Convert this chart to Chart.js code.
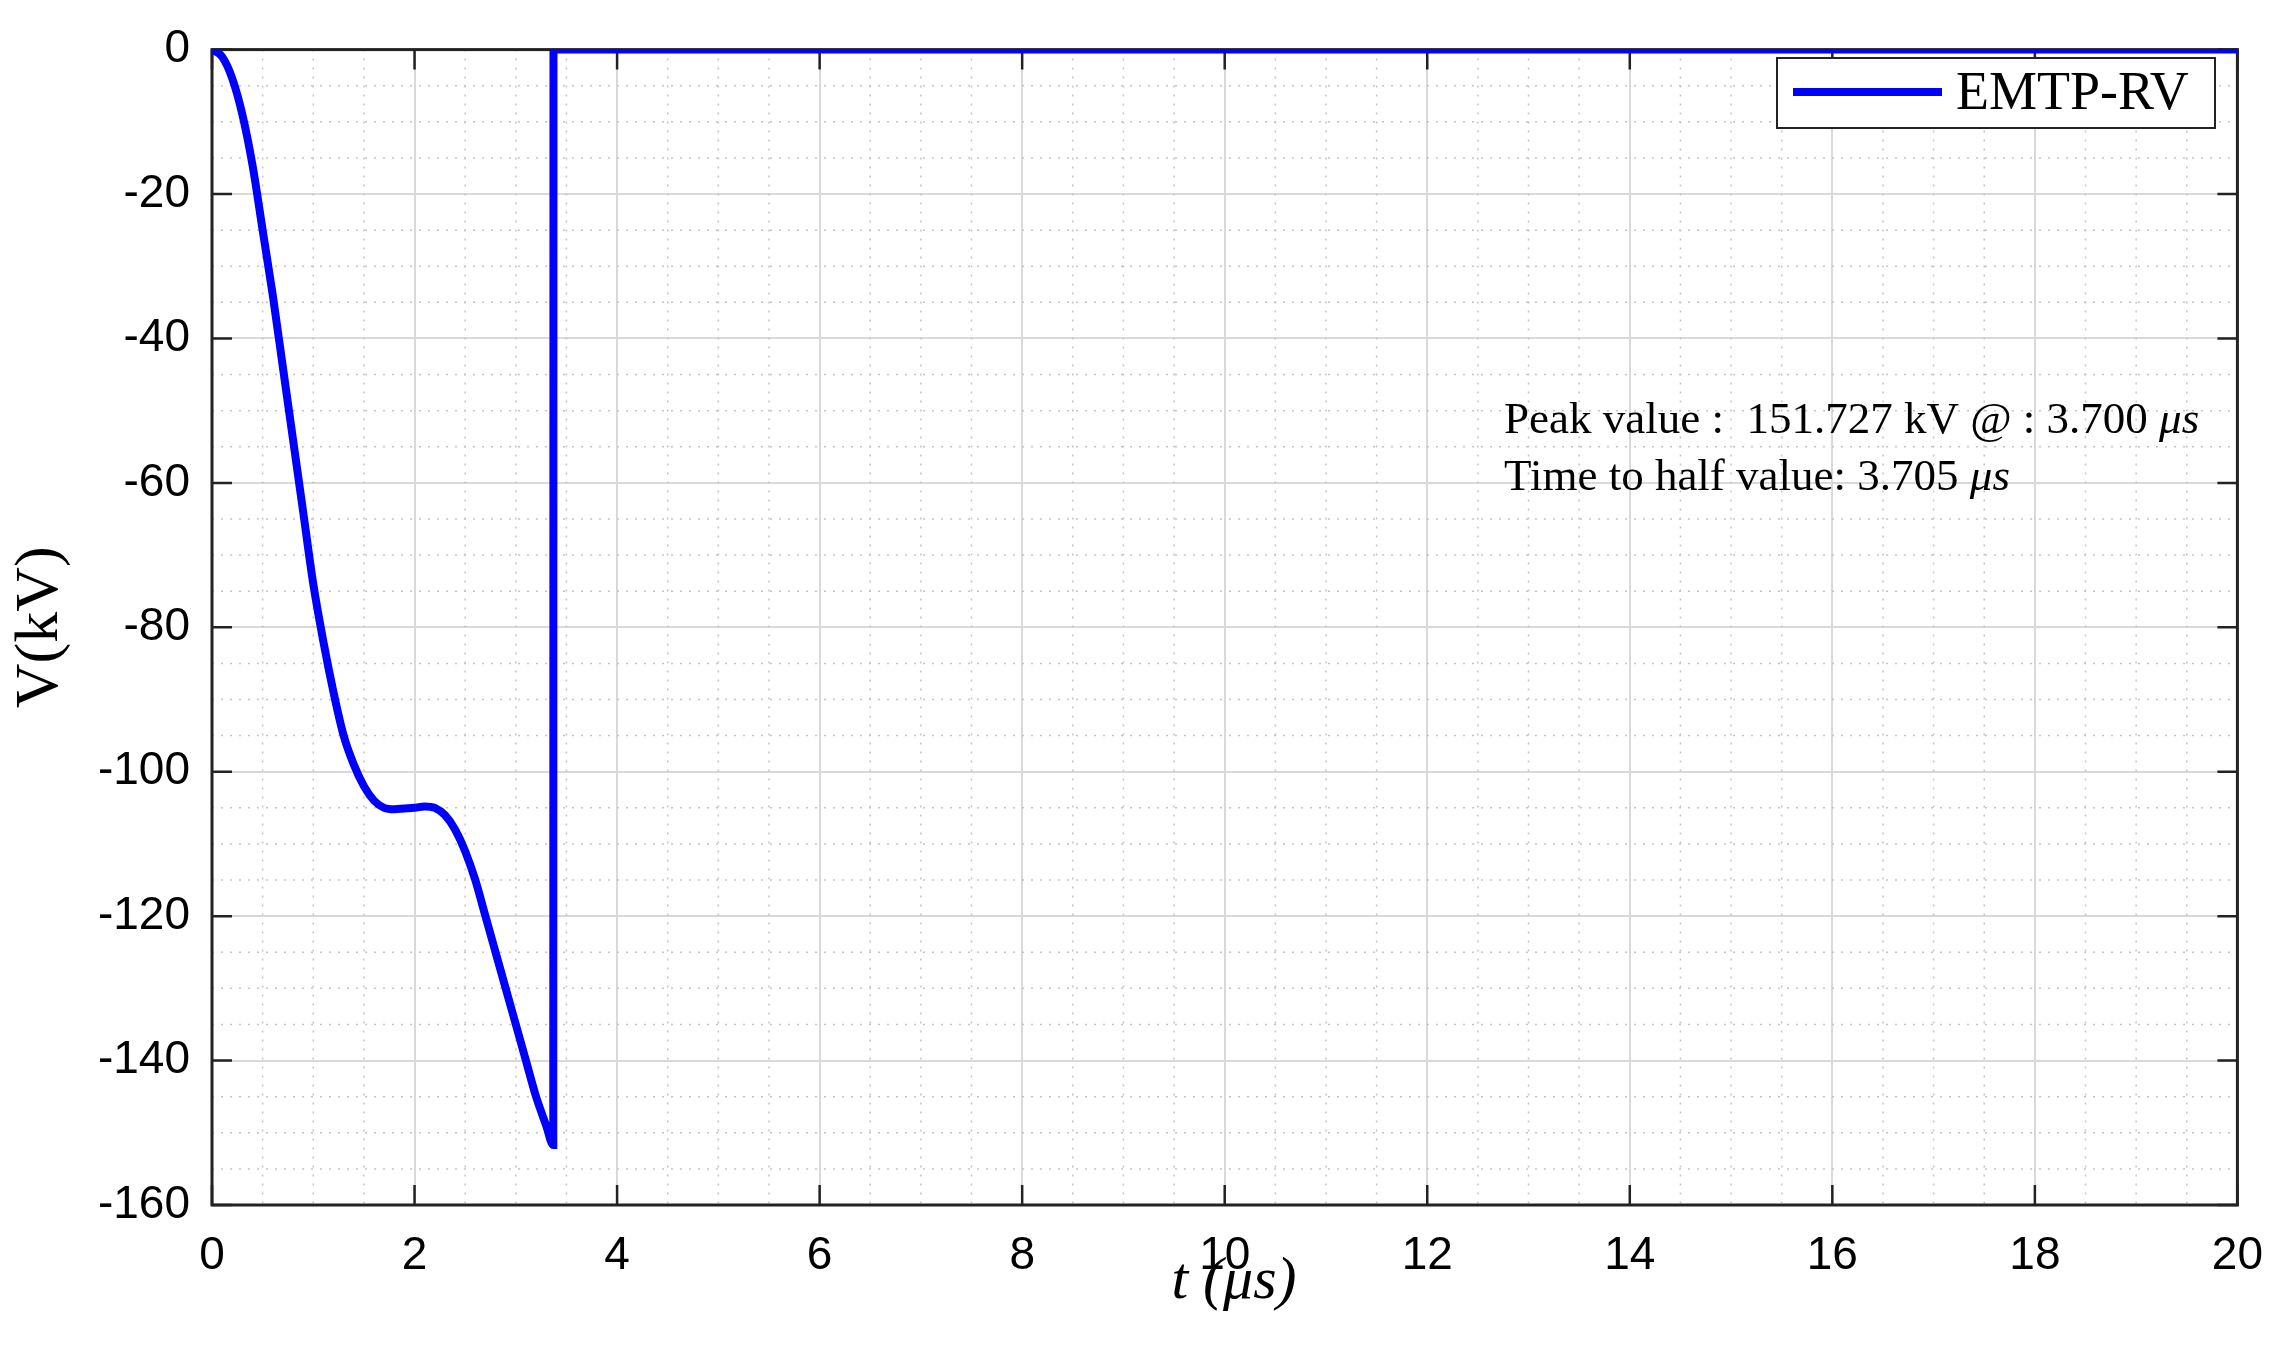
<!DOCTYPE html>
<html><head><meta charset="utf-8">
<script src="https://cdn.jsdelivr.net/npm/chart.js@4"></script>
<style>html,body{margin:0;background:#fff}#wrap{width:2287px;height:1362px}</style>
</head><body><div id="wrap"><canvas id="chart"></canvas></div>
<script>
// EMTP-RV voltage waveform
const timeUs = [0, 0.1, 0.2, 0.3, 0.4, 0.5, 0.6, 0.7, 0.8, 0.9, 1.0, 1.1, 1.2, 1.3, 1.4, 1.5, 1.6, 1.7, 1.8, 1.9, 2.0, 2.1, 2.2, 2.3, 2.4, 2.5, 2.6, 2.7, 2.8, 2.9, 3.0, 3.1, 3.2, 3.3, 3.37, 3.372, 20];
const voltKV = [0, -1, -4, -9, -16, -25, -34, -44, -54, -64, -74, -82, -89, -95, -99, -102, -104, -105, -105.2, -105.1, -105, -104.8, -105, -106, -108, -111, -115, -120, -125, -130, -135, -140, -145, -149, -151.7, 0, 0];
const xTicks = [0, 2, 4, 6, 8, 10, 12, 14, 16, 18, 20];
const yTicks = [0, -20, -40, -60, -80, -100, -120, -140, -160];
const legendLabel = 'EMTP-RV';
const xTitle = 't (μs)';
const noteLines = [['Peak value :  151.727 kV @ : 3.700 ', 'μs'], ['Time to half value: 3.705 ', 'μs']];

const SERIF = '"Liberation Serif", "DejaVu Serif", serif';
const SANS = '"Liberation Sans", Arial, sans-serif';

const decor = {
  id: 'decor',
  beforeDatasetsDraw(chart) {
    const { ctx, chartArea: a, scales: { x, y } } = chart;
    ctx.save();
    ctx.strokeStyle = '#c4c4c4';
    ctx.lineWidth = 1.5;
    ctx.setLineDash([2, 7]);
    for (let v = 0.5; v < 20; v += 0.5) {
      if (v % 2 === 0) continue;
      const px = x.getPixelForValue(v);
      ctx.beginPath(); ctx.moveTo(px, a.top); ctx.lineTo(px, a.bottom); ctx.stroke();
    }
    for (let v = -5; v > -160; v -= 5) {
      if (v % 20 === 0) continue;
      const py = y.getPixelForValue(v);
      ctx.beginPath(); ctx.moveTo(a.left, py); ctx.lineTo(a.right, py); ctx.stroke();
    }
    ctx.setLineDash([]);
    ctx.strokeStyle = '#222';
    ctx.lineWidth = 3;
    ctx.strokeRect(a.left, a.top, a.right - a.left, a.bottom - a.top);
    ctx.lineWidth = 2.5;
    xTicks.forEach(v => {
      const px = x.getPixelForValue(v);
      ctx.beginPath(); ctx.moveTo(px, a.bottom); ctx.lineTo(px, a.bottom - 20);
      ctx.moveTo(px, a.top); ctx.lineTo(px, a.top + 20); ctx.stroke();
    });
    yTicks.forEach(v => {
      const py = y.getPixelForValue(v);
      ctx.beginPath(); ctx.moveTo(a.left, py); ctx.lineTo(a.left + 20, py);
      ctx.moveTo(a.right, py); ctx.lineTo(a.right - 20, py); ctx.stroke();
    });
    ctx.restore();
  },
  afterDatasetsDraw(chart) {
    const { ctx } = chart;
    ctx.save();
    // legend
    ctx.fillStyle = '#fff';
    ctx.fillRect(1777, 58, 438, 70);
    ctx.strokeStyle = '#222'; ctx.lineWidth = 2;
    ctx.strokeRect(1777, 58, 438, 70);
    ctx.strokeStyle = '#0000ff'; ctx.lineWidth = 8;
    ctx.beginPath(); ctx.moveTo(1793, 92); ctx.lineTo(1942, 92); ctx.stroke();
    ctx.fillStyle = '#000';
    ctx.font = '54px ' + SERIF;
    ctx.textBaseline = 'middle';
    ctx.fillText(legendLabel, 1956, 95);
    // x title
    ctx.font = 'italic 60px ' + SERIF;
    ctx.textAlign = 'center';
    ctx.fillText(xTitle, 1234, 1282);
    ctx.textAlign = 'left';
    // annotation
    ctx.textBaseline = 'alphabetic';
    noteLines.forEach((parts, i) => {
      const by = 433 + i * 57;
      ctx.font = '45px ' + SERIF;
      ctx.fillText(parts[0], 1504, by);
      const w = ctx.measureText(parts[0]).width;
      ctx.font = 'italic 45px ' + SERIF;
      ctx.fillText(parts[1], 1504 + w, by);
    });
    ctx.restore();
  }
};

new Chart(document.getElementById('chart'), {
  type: 'line',
  data: {
    datasets: [{
      label: legendLabel,
      data: timeUs.map((t, i) => ({ x: t, y: voltKV[i] })),
      borderColor: '#0000ff',
      borderWidth: 8,
      pointRadius: 0,
      cubicInterpolationMode: 'monotone'
    }]
  },
  options: {
    responsive: true,
    maintainAspectRatio: false,
    animation: false,
    layout: { padding: { top: 3, right: 31, left: 0, bottom: 0 } },
    plugins: { legend: { display: false }, tooltip: { enabled: false } },
    scales: {
      x: {
        type: 'linear', min: 0, max: 20,
        afterFit(s) { s.height = 157; },
        afterBuildTicks(s) { s.ticks = xTicks.map(v => ({ value: v })); },
        grid: { color: '#d9d9d9', lineWidth: 2, drawTicks: false },
        border: { display: false },
        ticks: { color: '#000', font: { family: SANS, size: 46 }, padding: 24 }
      },
      y: {
        type: 'linear', min: -160, max: 0,
        afterFit(s) { s.width = 212; },
        afterBuildTicks(s) { s.ticks = yTicks.map(v => ({ value: v })); },
        grid: { color: '#d9d9d9', lineWidth: 2, drawTicks: false },
        border: { display: false },
        ticks: { color: '#000', font: { family: SANS, size: 46 }, padding: 22 },
        title: { display: true, text: 'V(kV)', color: '#000', font: { family: SERIF, size: 62 }, padding: { bottom: 2 } }
      }
    }
  },
  plugins: [decor]
});
</script></body></html>
